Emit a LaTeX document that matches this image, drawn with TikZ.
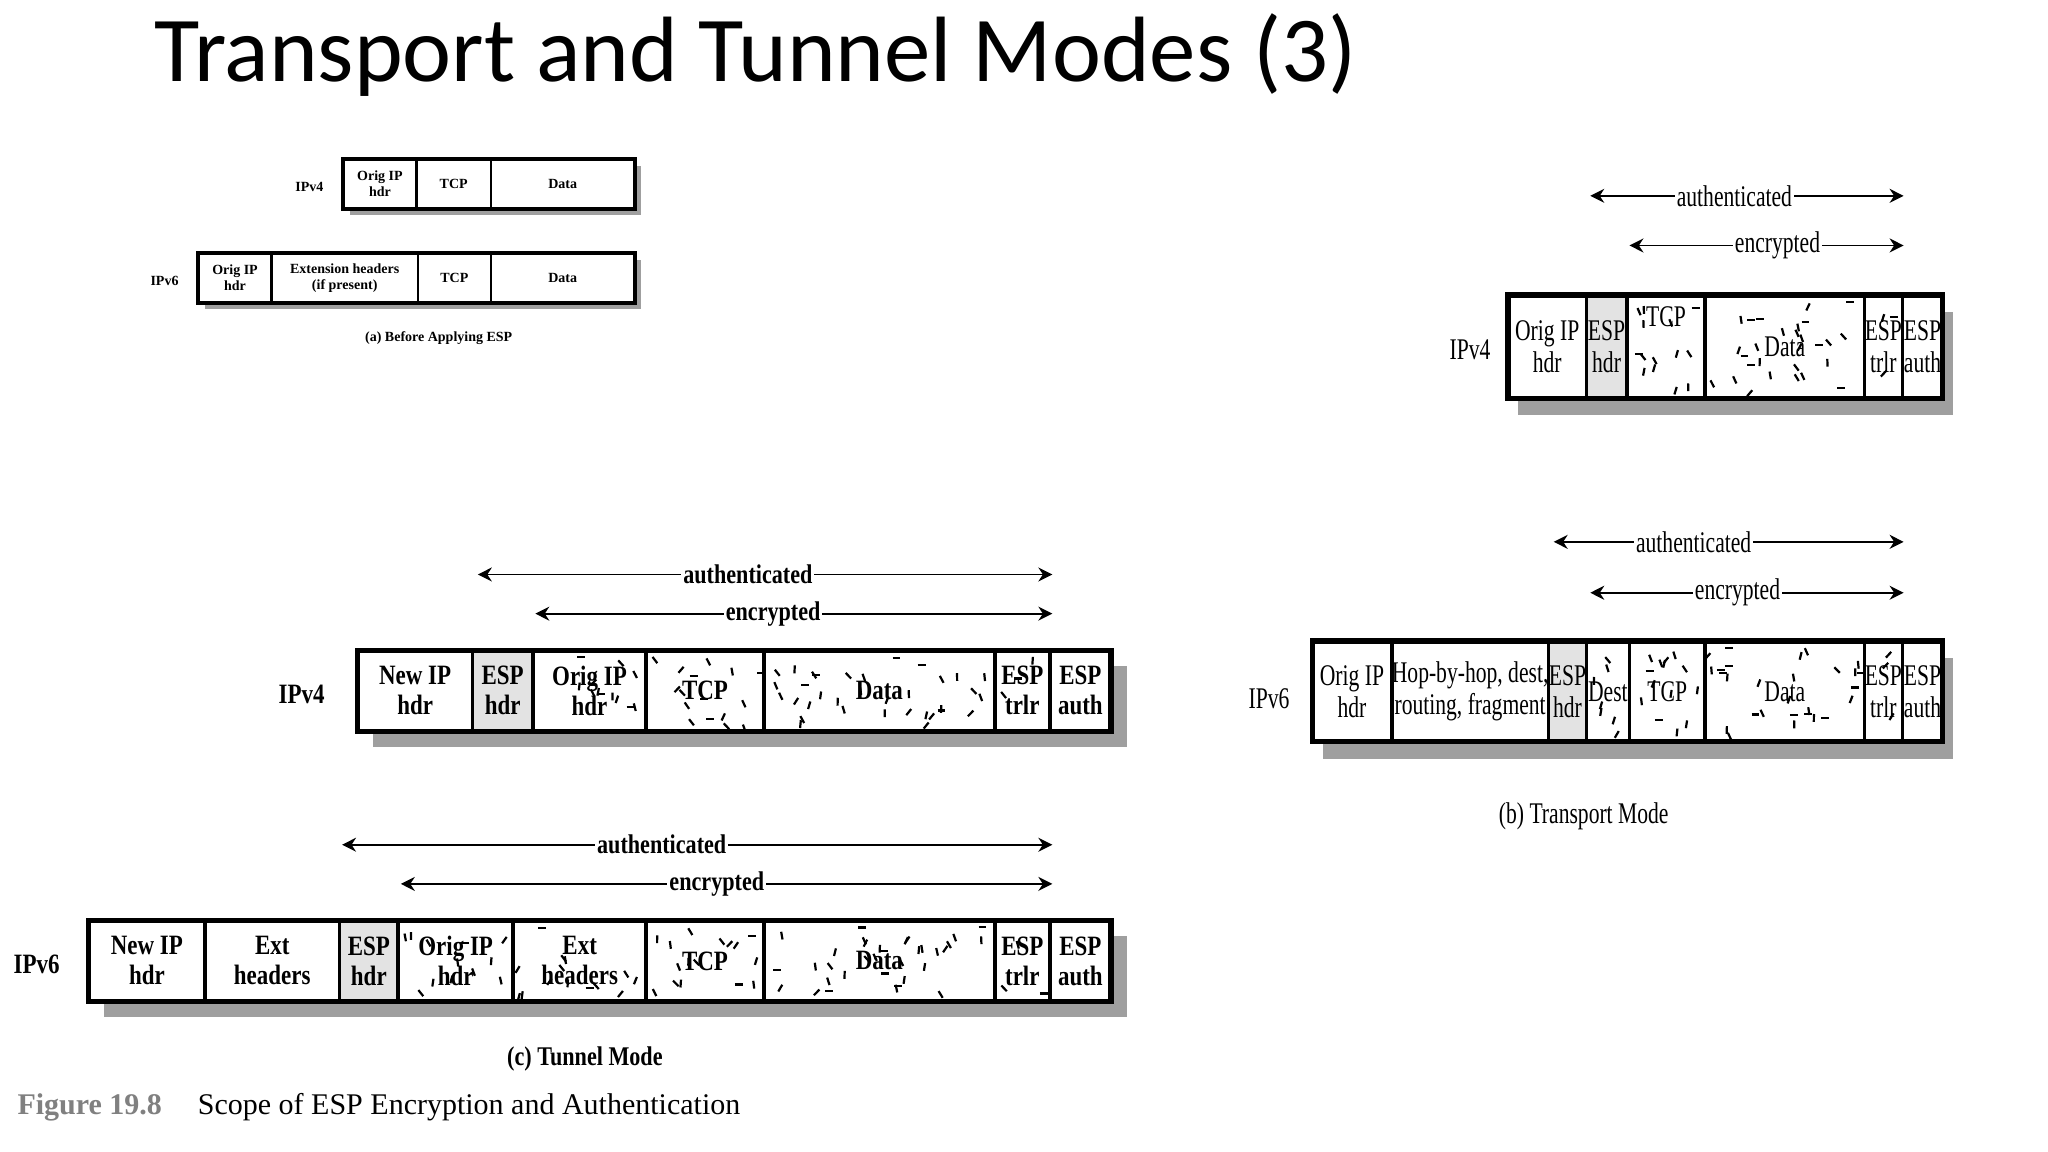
\documentclass[tikz,border=0pt]{standalone}
\usepackage{fontspec}
\setmainfont{Liberation Serif}
\newfontfamily\cond{Liberation Serif}[FakeStretch=0.72]
\newfontfamily\condb{Liberation Serif}[FakeStretch=0.82]
\newfontfamily\titlef{Carlito}
\usetikzlibrary{arrows.meta}
\newcommand\pcell[7]{\node[cell,#7,minimum width={(#3-#2)*0.6528pt},minimum height={(#5-#4)*0.6528pt}] (#1) at ({(#2+#3)/2},{(#4+#5)/2}) {#6};}
\newcommand\phatch[5]{%
  \foreach \k in {1,...,#5}{%
    \pgfmathsetmacro\hx{#1+4+rnd*(#2-#1-8)}%
    \pgfmathsetmacro\hy{#3+5+rnd*(#4-#3-10)}%
    \pgfmathsetmacro\ha{rnd<0.2 ? 0 : 90+(rnd-0.5)*90}%
    \draw[line width=1.1pt] (\hx,\hy) -- ++(\ha:6);}}
\newcommand\pshadow[6]{\fill[gray!75] ({#1+#5},{#3+#6}) rectangle ({#2+#5},{#4+#6}); \fill[white] (#1,#3) rectangle (#2,#4);}
\tikzset{
  cell/.style={draw,line width=1.8pt,inner sep=0pt,align=center},
  esp/.style={fill=gray!22},
  arr/.style={line width=0.9pt,{Stealth[length=7pt,width=7pt]}-{Stealth[length=7pt,width=7pt]}},
  lbl/.style={fill=white,inner sep=1pt},
  smallcell/.style={cell,line width=1.2pt,font=\bfseries\fontsize{7}{8}\selectfont},
  ccell/.style={font=\condb\bfseries\fontsize{14}{15}\selectfont},
  bcell/.style={font=\cond\fontsize{15}{16}\selectfont},
  clbl/.style={lbl,font=\condb\bfseries\fontsize{13.5}{14}\selectfont},
  blbl/.style={lbl,font=\cond\fontsize{15}{16}\selectfont},
}
\begin{document}
\begin{tikzpicture}[x=0.6528pt,y=-0.6528pt]
\pgfmathsetseed{11}
\useasboundingbox[fill=white] (0,0) rectangle (1568.6,882.3);
\node[font=\titlef\fontsize{46.4}{52}\selectfont,anchor=west] (title) at (113,42) {Transport and Tunnel Modes (3)};

% ---------- (a)
\pshadow{263}{486}{122}{160}{5}{5}
\pcell{a4o}{263}{319}{122}{160}{Orig IP\\hdr}{smallcell}
\pcell{a4t}{319}{376}{122}{160}{TCP}{smallcell}
\pcell{a4d}{376}{486}{122}{160}{Data}{smallcell}
\draw[line width=2pt] (263,122) rectangle (486,160);
\node[font=\bfseries\fontsize{7}{8}\selectfont] (a4l) at (237,143) {IPv4};
\pshadow{152}{486}{194}{232}{5}{5}
\pcell{a6o}{152}{208}{194}{232}{Orig IP\\hdr}{smallcell}
\pcell{a6e}{208}{320}{194}{232}{Extension headers\\(if present)}{smallcell}
\pcell{a6t}{320}{376}{194}{232}{TCP}{smallcell}
\pcell{a6d}{376}{486}{194}{232}{Data}{smallcell}
\draw[line width=2pt] (152,194) rectangle (486,232);
\node[font=\bfseries\fontsize{7}{8}\selectfont] (a6l) at (126,215) {IPv6};
\node[font=\bfseries\fontsize{7}{8}\selectfont] (acap) at (336,259) {(a) Before Applying ESP};

% ---------- (b) IPv4
\pshadow{1155}{1488}{226}{305}{8}{13}
\phatch{1246}{1306}{226}{305}{14}
\phatch{1306}{1428}{226}{305}{28}
\phatch{1428}{1457}{226}{305}{3}
\pcell{b4o}{1155}{1215}{226}{305}{Orig IP\\hdr}{bcell}
\pcell{b4e}{1215}{1246}{226}{305}{ESP\\hdr}{bcell,esp}
\pcell{b4t}{1246}{1306}{226}{305}{TCP\\[14pt]}{bcell}
\pcell{b4d}{1306}{1428}{226}{305}{Data}{bcell}
\pcell{b4r}{1428}{1457}{226}{305}{ESP\\trlr}{bcell}
\pcell{b4a}{1457}{1488}{226}{305}{ESP\\auth}{bcell}
\draw[line width=2.6pt] (1155,226) rectangle (1488,305);
\node[font=\cond\fontsize{15}{16}\selectfont] (b4l) at (1126,268) {IPv4};
\coordinate (b4a1) at (1218,150); \coordinate (b4a2) at (1458,150);
\draw[arr] (b4a1) -- node[blbl,pos=0.46]{authenticated} (b4a2);
\coordinate (b4e1) at (1248,188); \coordinate (b4e2) at (1458,188);
\draw[arr] (b4e1) -- node[blbl,pos=0.54]{encrypted} (b4e2);

% ---------- (b) IPv6
\pshadow{1005}{1488}{491}{568}{8}{13}
\phatch{1215}{1248}{491}{568}{7}
\phatch{1248}{1306}{491}{568}{14}
\phatch{1306}{1428}{491}{568}{28}
\phatch{1428}{1457}{491}{568}{3}
\pcell{b6o}{1005}{1066}{491}{568}{Orig IP\\hdr}{bcell}
\pcell{b6h}{1066}{1186}{491}{568}{Hop-by-hop, dest,\\routing, fragment}{bcell}
\pcell{b6e}{1186}{1215}{491}{568}{ESP\\hdr}{bcell,esp}
\pcell{b6s}{1215}{1248}{491}{568}{Dest}{bcell}
\pcell{b6t}{1248}{1306}{491}{568}{TCP}{bcell}
\pcell{b6d}{1306}{1428}{491}{568}{Data}{bcell}
\pcell{b6r}{1428}{1457}{491}{568}{ESP\\trlr}{bcell}
\pcell{b6a}{1457}{1488}{491}{568}{ESP\\auth}{bcell}
\draw[line width=2.6pt] (1005,491) rectangle (1488,568);
\node[font=\cond\fontsize{15}{16}\selectfont] (b6l) at (972,535) {IPv6};
\coordinate (b6a1) at (1190,415); \coordinate (b6a2) at (1458,415);
\draw[arr] (b6a1) -- node[blbl,pos=0.40]{authenticated} (b6a2);
\coordinate (b6e1) at (1218,454); \coordinate (b6e2) at (1458,454);
\draw[arr] (b6e1) -- node[blbl,pos=0.47]{encrypted} (b6e2);
\node[font=\cond\fontsize{15}{16}\selectfont] (bcap) at (1213,625) {(b) Transport Mode};

% ---------- (c) IPv4
\pshadow{274}{851}{498}{560}{12}{12}
\phatch{408}{495}{498}{560}{12}
\phatch{495}{585}{498}{560}{16}
\phatch{585}{762}{498}{560}{34}
\phatch{762}{804}{498}{560}{3}
\pcell{c4n}{274}{362}{498}{560}{New IP\\hdr}{ccell}
\pcell{c4e}{362}{408}{498}{560}{ESP\\hdr}{ccell,esp}
\pcell{c4o}{408}{495}{498}{560}{Orig IP\\hdr}{ccell}
\pcell{c4t}{495}{585}{498}{560}{TCP}{ccell}
\pcell{c4d}{585}{762}{498}{560}{Data}{ccell}
\pcell{c4r}{762}{804}{498}{560}{ESP\\trlr}{ccell}
\pcell{c4a}{804}{851}{498}{560}{ESP\\auth}{ccell}
\draw[line width=2.6pt] (274,498) rectangle (851,560);
\node[font=\condb\bfseries\fontsize{14}{15}\selectfont] (c4l) at (231,532) {IPv4};
\coordinate (c4a1) at (366,440); \coordinate (c4a2) at (806,440);
\draw[arr] (c4a1) -- node[clbl,pos=0.47]{authenticated} (c4a2);
\coordinate (c4e1) at (410,470); \coordinate (c4e2) at (806,470);
\draw[arr] (c4e1) -- node[clbl,pos=0.46]{encrypted} (c4e2);

% ---------- (c) IPv6
\pshadow{68}{851}{705}{767}{12}{12}
\phatch{305}{393}{705}{767}{12}
\phatch{393}{495}{705}{767}{14}
\phatch{495}{585}{705}{767}{16}
\phatch{585}{762}{705}{767}{34}
\phatch{762}{804}{705}{767}{3}
\pcell{c6n}{68}{157}{705}{767}{New IP\\hdr}{ccell}
\pcell{c6x}{157}{260}{705}{767}{Ext\\headers}{ccell}
\pcell{c6e}{260}{305}{705}{767}{ESP\\hdr}{ccell,esp}
\pcell{c6o}{305}{393}{705}{767}{Orig IP\\hdr}{ccell}
\pcell{c6y}{393}{495}{705}{767}{Ext\\headers}{ccell}
\pcell{c6t}{495}{585}{705}{767}{TCP}{ccell}
\pcell{c6d}{585}{762}{705}{767}{Data}{ccell}
\pcell{c6r}{762}{804}{705}{767}{ESP\\trlr}{ccell}
\pcell{c6a}{804}{851}{705}{767}{ESP\\auth}{ccell}
\draw[line width=2.6pt] (68,705) rectangle (851,767);
\node[font=\condb\bfseries\fontsize{14}{15}\selectfont] (c6l) at (28,739) {IPv6};
\coordinate (c6a1) at (262,647); \coordinate (c6a2) at (806,647);
\draw[arr] (c6a1) -- node[clbl,pos=0.45]{authenticated} (c6a2);
\coordinate (c6e1) at (307,677); \coordinate (c6e2) at (806,677);
\draw[arr] (c6e1) -- node[clbl,pos=0.485]{encrypted} (c6e2);
\node[font=\condb\bfseries\fontsize{13.5}{14}\selectfont] (ccap) at (448,811) {(c) Tunnel Mode};

\node[anchor=west,font=\fontsize{15}{16}\selectfont] (fig) at (8,848) {\textcolor{gray}{\bfseries Figure 19.8}\hspace{1.2em}Scope of ESP Encryption and Authentication};
\end{tikzpicture}
\end{document}
